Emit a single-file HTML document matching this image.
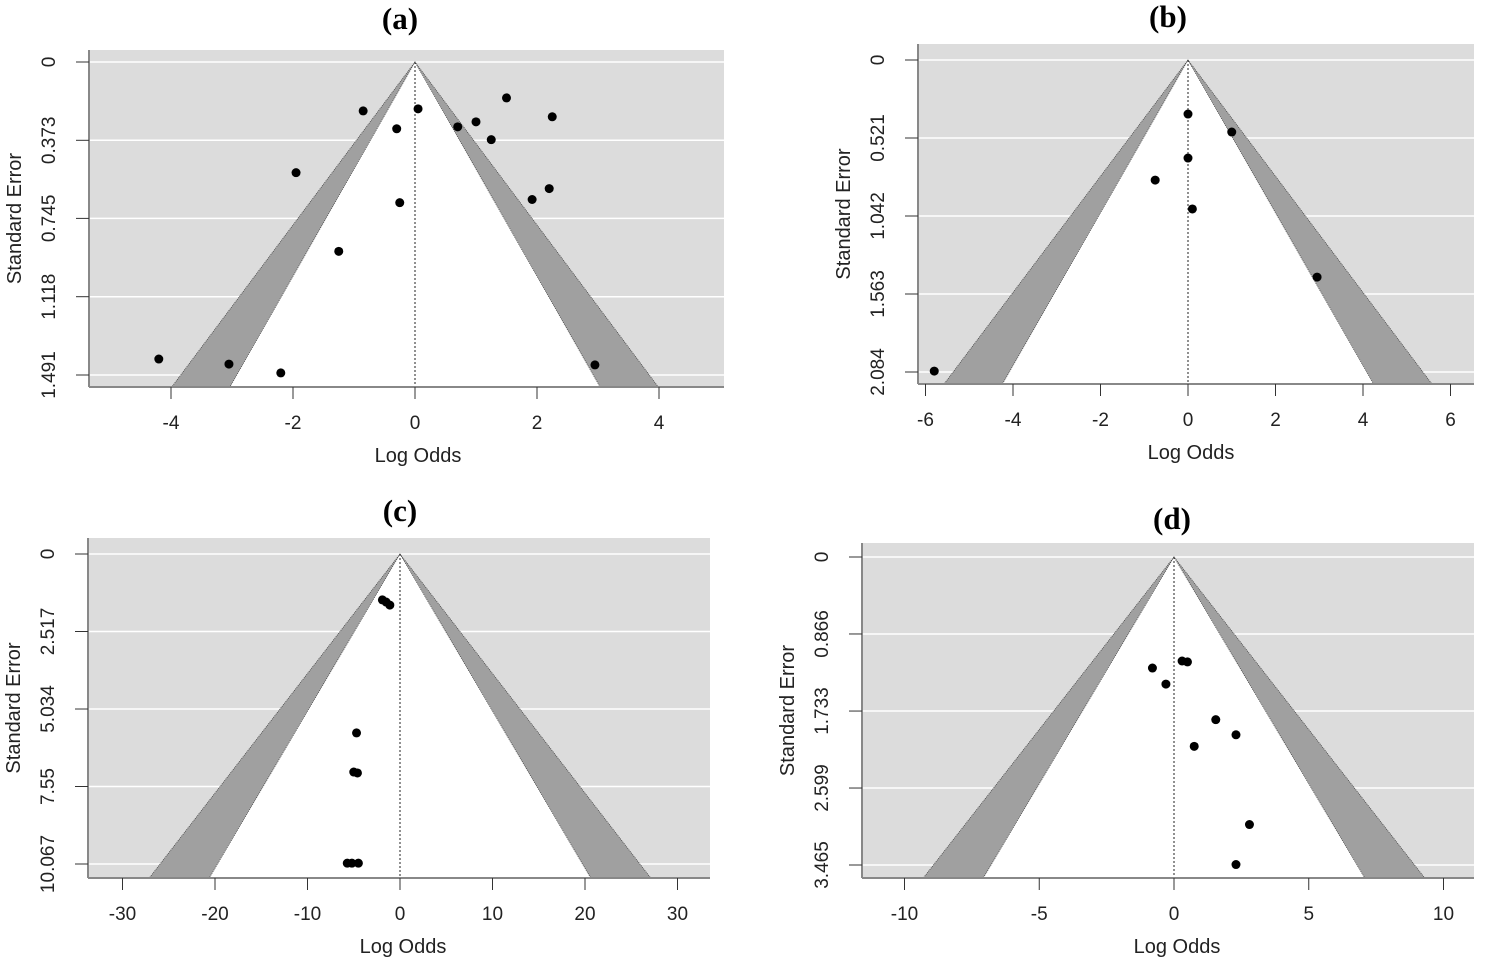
<!DOCTYPE html>
<html><head><meta charset="utf-8"><style>
html,body{margin:0;padding:0;background:#fff;width:1500px;height:958px;overflow:hidden}
svg{display:block}
text{font-family:"Liberation Sans",Arial,sans-serif}
</style></head><body>
<svg id="chart" width="1500" height="958"></svg>
<script>
// Panel data (log odds, standard error)
const aLogOdds=[-4.2,-3.05,-2.2,2.95,-1.25,-1.95,-0.85,-0.3,0.05,-0.25,0.7,1.0,1.25,1.5,2.25,1.92,2.2];
const aSE=[1.415,1.439,1.481,1.443,0.902,0.527,0.233,0.318,0.223,0.67,0.309,0.285,0.37,0.171,0.261,0.655,0.603];
const bLogOdds=[0,1.0,0,-0.75,0.1,2.95,-5.8];
const bSE=[0.361,0.481,0.655,0.802,0.995,1.45,2.078];
const cLogOdds=[-1.9,-1.5,-1.1,-4.7,-5.0,-4.6,-5.7,-5.2,-4.5];
const cSE=[1.49,1.56,1.66,5.81,7.08,7.11,10.04,10.04,10.04];
const dLogOdds=[-0.8,-0.3,0.3,0.5,1.55,2.3,0.75,2.8,2.3];
const dSE=[1.249,1.43,1.17,1.18,1.83,2.0,2.13,3.01,3.46];
const aXTicks=[-4,-2,0,2,4], bXTicks=[-6,-4,-2,0,2,4,6], cXTicks=[-30,-20,-10,0,10,20,30], dXTicks=[-10,-5,0,5,10];
const aYTicks=[0,0.373,0.745,1.118,1.491], bYTicks=[0,0.521,1.042,1.563,2.084], cYTicks=[0,2.517,5.034,7.55,10.067], dYTicks=[0,0.866,1.733,2.599,3.465];

const NS="http://www.w3.org/2000/svg";
const svg=document.getElementById('chart');
function mk(tag,attrs,parent){const e=document.createElementNS(NS,tag);for(const k in attrs)e.setAttribute(k,attrs[k]);(parent||svg).appendChild(e);return e;}

const panels=[
 {id:'a',label:'(a)',lx:400,ly:29,L:89,R:724,T:50,B:387,x0:415,xs:61,y0:62,yMax:1.491,yMaxPx:375,xs_:aXTicks,ys_:aYTicks,px:aLogOdds,py:aSE},
 {id:'b',label:'(b)',lx:1168,ly:27,L:918,R:1474,T:44,B:384,x0:1188,xs:43.75,y0:60,yMax:2.084,yMaxPx:372,xs_:bXTicks,ys_:bYTicks,px:bLogOdds,py:bSE},
 {id:'c',label:'(c)',lx:400,ly:521,L:88,R:710,T:538,B:878,x0:400,xs:9.25,y0:554,yMax:10.067,yMaxPx:864,xs_:cXTicks,ys_:cYTicks,px:cLogOdds,py:cSE},
 {id:'d',label:'(d)',lx:1172,ly:529,L:862,R:1474,T:543,B:878,x0:1174,xs:26.95,y0:557,yMax:3.465,yMaxPx:865,xs_:dXTicks,ys_:dYTicks,px:dLogOdds,py:dSE}
];

panels.forEach(p=>{
 const X=v=>p.x0+v*p.xs;
 const Y=v=>p.y0+v*(p.yMaxPx-p.y0)/p.yMax;
 const g=mk('g',{});
 
 
 const cp=mk('clipPath',{id:'clip'+p.id},g);
 mk('rect',{x:p.L,y:p.T,width:p.R-p.L,height:p.B-p.T},cp);
 const title=mk('text',{x:p.lx,y:p.ly,'text-anchor':'middle','font-size':'31','font-weight':'bold',style:'font-family:"Liberation Serif",serif'},g);
 title.textContent=p.label;
 
 
 const bg=mk('rect',{x:p.L,y:p.T,width:p.R-p.L,height:p.B-p.T,fill:'#dcdcdc'},g);
 
 
 p.ys_.forEach(t=>{
  const gl=mk('line',{x1:p.L,x2:p.R,y1:Y(t),y2:Y(t),stroke:'#fff','stroke-width':1.5},g);
  
  
 });
 const seB=(p.B-p.y0)/(p.yMaxPx-p.y0)*p.yMax;
 const fg=mk('g',{'clip-path':'url(#clip'+p.id+')'},g);
 const ax=X(0),ay=Y(0);
 const o=2.576*seB,i=1.96*seB;
 const band=mk('polygon',{points:`${ax},${ay} ${X(-o)},${p.B} ${X(o)},${p.B}`,fill:'#a0a0a0',stroke:'#444','stroke-width':0.8,'stroke-dasharray':'1,1'},fg);
 
 
 const inner=mk('polygon',{points:`${ax},${ay} ${X(-i)},${p.B} ${X(i)},${p.B}`,fill:'#fff',stroke:'#444','stroke-width':0.8,'stroke-dasharray':'1,1'},fg);
 
 
 const vl=mk('line',{x1:ax,x2:ax,y1:ay,y2:p.B,stroke:'#222','stroke-width':1,'stroke-dasharray':'2,2'},fg);
 
 
 const yl=mk('line',{x1:p.L,x2:p.L,y1:p.T,y2:p.B,stroke:'#888','stroke-width':2},g);
 
 
 const xl=mk('line',{x1:p.L,x2:p.R,y1:p.B,y2:p.B,stroke:'#888','stroke-width':2},g);
 
 
 p.ys_.forEach(t=>{
  const tk=mk('line',{x1:p.L-13,x2:p.L,y1:Y(t),y2:Y(t),stroke:'#333','stroke-width':1},g);
  
  
  const tx=mk('text',{x:0,y:0,'text-anchor':'middle','font-size':'19',fill:'#222',transform:`translate(${p.L-34},${Y(t)}) rotate(-90)`},g);
  tx.textContent=String(t);
  
  
 });
 p.xs_.forEach(t=>{
  const tk=mk('line',{x1:X(t),x2:X(t),y1:p.B,y2:p.B+12,stroke:'#333','stroke-width':1},g);
  
  
  const tx=mk('text',{x:X(t),y:p.B+42,'text-anchor':'middle','font-size':'19',fill:'#222'},g);
  tx.textContent=String(t);
  
  
 });
 const xt=mk('text',{x:p.x0+3,y:p.B+75,'text-anchor':'middle','font-size':'20',fill:'#222'},g);
 xt.textContent='Log Odds';
 
 
 const yt=mk('text',{x:0,y:0,'text-anchor':'middle','font-size':'20',fill:'#222',transform:`translate(${p.L-68},${(p.T+p.B)/2}) rotate(-90)`},g);
 yt.textContent='Standard Error';
 
 
 p.px.forEach((v,k)=>{
  const c=mk('circle',{cx:X(v),cy:Y(p.py[k]),r:4.5,fill:'#000'},g);
  
  
 });
});
</script>
</body></html>
